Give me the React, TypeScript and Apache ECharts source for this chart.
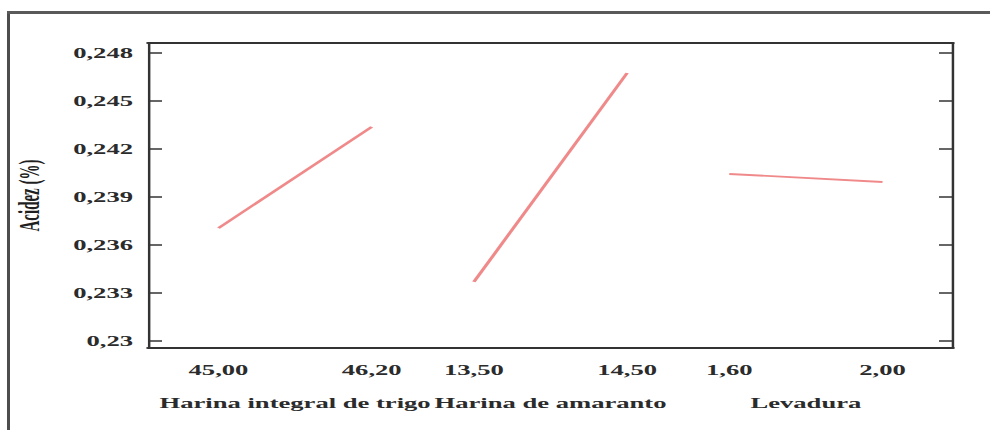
import React, { useEffect, useRef } from "react";
import * as echarts from "echarts";

// Main effects plot for acidity (Acidez, %) of three formulation factors.
const factorNames = ["Harina integral de trigo", "Harina de amaranto", "Levadura"];
const levelLabels = [
  ["45,00", "46,20"],
  ["13,50", "14,50"],
  ["1,60", "2,00"],
];
const acidezMeans = [
  [0.23706, 0.24338],
  [0.23369, 0.24675],
  [0.24044, 0.23994],
];
const yTickValues = [0.23, 0.233, 0.236, 0.239, 0.242, 0.245, 0.248];

// The drawing is stretched horizontally; the chart works in a narrower space.
const CHART_W = 521;
const PAGE_W = 990;
const PAGE_H = 430;
const S = PAGE_W / CHART_W;

// Slot layout on the shared x axis: two levels per factor, a gap between factors.
const LEVEL_STEP = 1.5;
const FACTOR_GAP = 1;
const levelPos = (f: number, l: number) => f * (LEVEL_STEP + FACTOR_GAP) + l * LEVEL_STEP;

const FONT = "'Liberation Serif', 'Times New Roman', serif";
const INK = "#2b2b2b";

export default function App() {
  const ref = useRef<HTMLDivElement>(null);

  useEffect(() => {
    if (!ref.current) return;
    const chart = echarts.init(ref.current, null, { renderer: "svg" });

    const positions: number[] = [];
    const labelAt: string[] = [];
    levelLabels.forEach((lv, f) =>
      lv.forEach((t, l) => {
        positions.push(levelPos(f, l));
        labelAt.push(t);
      })
    );
    const centers = factorNames.map((_, f) => (levelPos(f, 0) + levelPos(f, 1)) / 2);
    const lastPos = levelPos(factorNames.length - 1, 1);
    const pad = 0.69;
    const xMin = -pad;
    const xMax = lastPos + pad;

    const findIdx = (arr: number[], v: number) =>
      arr.findIndex((p) => Math.abs(p - v) < 1e-6);

    const yMin = 0.2295625;
    const yMax = 0.248625;

    const labelStyle = {
      fontFamily: FONT,
      fontWeight: "bold" as const,
      fontSize: 14,
      color: INK,
    };

    const option: any = {
      animation: false,
      backgroundColor: "#ffffff",
      grid: {
        left: 148 / S,
        right: CHART_W - 953 / S,
        top: 43,
        bottom: PAGE_H - 348,
        containLabel: false,
      },
      graphic: [
        {
          type: "rect",
          shape: { x: 7 / S, y: 11, width: 3 / S, height: PAGE_H },
          style: { fill: "#4d4d4d" },
          silent: true,
        },
        {
          type: "rect",
          shape: { x: 7 / S, y: 11, width: CHART_W, height: 3 },
          style: { fill: "#5a5a5a" },
          silent: true,
        },
      ],
      xAxis: [
        {
          type: "value",
          min: xMin,
          max: xMax,
          position: "bottom",
          axisLine: { show: true, onZero: false, lineStyle: { color: "#333", width: 2 } },
          axisTick: { show: false },
          splitLine: { show: false },
          axisLabel: {
            ...labelStyle,
            customValues: positions,
            margin: 15,
            formatter: (v: number) => {
              const i = findIdx(positions, v);
              return i >= 0 ? labelAt[i] : "";
            },
          },
        },
        {
          type: "value",
          min: xMin,
          max: xMax,
          position: "bottom",
          axisLine: { show: false },
          axisTick: { show: false },
          splitLine: { show: false },
          axisLabel: {
            ...labelStyle,
            customValues: centers,
            margin: 48,
            formatter: (v: number) => {
              const i = findIdx(centers, v);
              return i >= 0 ? factorNames[i] : "";
            },
          },
        },
        {
          type: "value",
          min: xMin,
          max: xMax,
          position: "top",
          axisLine: { show: true, onZero: false, lineStyle: { color: "#333", width: 2 } },
          axisTick: { show: false },
          axisLabel: { show: false },
          splitLine: { show: false },
        },
      ],
      yAxis: [
        {
          type: "value",
          min: yMin,
          max: yMax,
          position: "left",
          name: "Acidez (%)",
          nameLocation: "middle",
          nameRotate: 90,
          nameGap: 104 / S,
          nameTextStyle: {
            fontFamily: FONT,
            fontWeight: "bold",
            fontSize: 15,
            color: "#1f1f1f",
          },
          axisLine: { show: true, onZero: false, lineStyle: { color: "#333", width: 1.3 } },
          axisTick: {
            show: true,
            inside: true,
            length: 14 / S,
            customValues: yTickValues,
            lineStyle: { color: "#333", width: 1.5 },
          },
          splitLine: { show: false },
          axisLabel: {
            ...labelStyle,
            customValues: yTickValues,
            margin: 15 / S,
            formatter: (v: number) => String(v).replace(".", ","),
          },
        },
        {
          type: "value",
          min: yMin,
          max: yMax,
          position: "right",
          axisLine: { show: true, onZero: false, lineStyle: { color: "#333", width: 1.3 } },
          axisTick: {
            show: true,
            inside: true,
            length: 14 / S,
            customValues: yTickValues,
            lineStyle: { color: "#333", width: 1.5 },
          },
          axisLabel: { show: false },
          splitLine: { show: false },
        },
      ],
      series: acidezMeans.map((means, f) => ({
        type: "line",
        name: factorNames[f],
        xAxisIndex: 0,
        yAxisIndex: 0,
        symbol: "none",
        lineStyle: { color: "#f08a8a", width: 1.9 },
        data: means.map((m, l) => [levelPos(f, l), m]),
      })),
    };

    chart.setOption(option);
    return () => chart.dispose();
  }, []);

  return (
    <div
      style={{
        position: "absolute",
        left: 0,
        top: 0,
        width: PAGE_W,
        height: PAGE_H,
        overflow: "hidden",
        background: "#ffffff",
      }}
    >
      <div
        ref={ref}
        style={{
          width: CHART_W,
          height: PAGE_H,
          transform: `scaleX(${S})`,
          transformOrigin: "0 0",
        }}
      />
    </div>
  );
}
